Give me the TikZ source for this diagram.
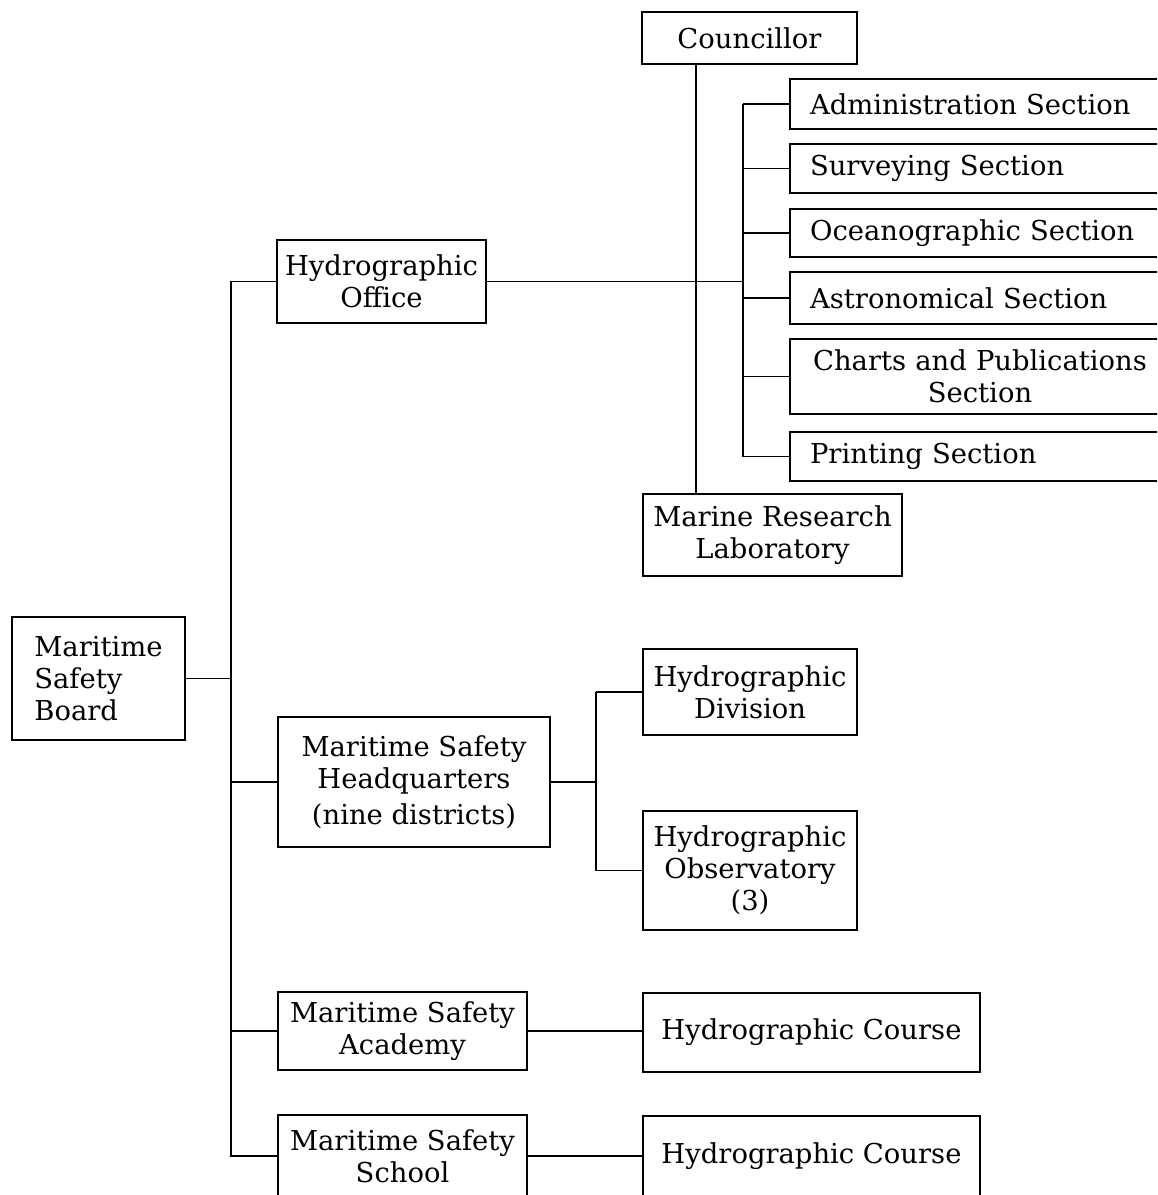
\documentclass[tikz,border=0pt]{standalone}
\usepackage{fontspec}
\setmainfont{DejaVu Serif}
\usepackage{tikz}
\usetikzlibrary{positioning}

\begin{document}
\begin{tikzpicture}[x=0.02cm, y=-0.02cm, line width=1pt,
        orgbox/.style={draw, rectangle, align=center, inner sep=2pt, font=\fontsize{15.6}{18.2}\selectfont},
        secbox/.style={orgbox, minimum width=7.6cm, inner xsep=0.4cm, text width=6.8cm, align=left}]
        \useasboundingbox (0,0) rectangle (1157,1195);
        \clip (0,0) rectangle (1157,1195);

        % top group
        \node[orgbox, minimum width=4.3cm, minimum height=1.04cm] (coun) at (749.5,38) {Councillor};
        \node[secbox, minimum height=1.0cm] (adm) at (980,104) {Administration Section};
        \node[secbox, minimum height=0.98cm] (surv) at (980,168.5) {Surveying Section};
        \node[secbox, minimum height=0.96cm] (ocea) at (980,233) {Oceanographic Section};
        \node[secbox, minimum height=1.04cm] (astr) at (980,298) {Astronomical Section};
        \node[secbox, align=center, minimum height=1.5cm] (chart) at (980,376.5) {Charts and Publications\\Section};
        \node[secbox, minimum height=0.98cm] (prnt) at (980,456.5) {Printing Section};
        \node[orgbox, minimum width=5.18cm, minimum height=1.64cm] (mrl) at (772.5,535) {Marine Research\\Laboratory};
        \node[orgbox, minimum width=4.18cm, minimum height=1.66cm] (hyd) at (381.5,281.5) {Hydrographic\\Office};

        % board and branches
        \node[orgbox, align=left, minimum width=3.46cm, minimum height=2.46cm] (msb) at (98.5,678.5) {Maritime\\Safety\\Board};
        \node[orgbox, minimum width=5.44cm, minimum height=2.6cm] (mshq) at (414,782) {Maritime Safety\\Headquarters\\[2pt](nine districts)};
        \node[orgbox, minimum width=4.28cm, minimum height=1.72cm] (div) at (750,692) {Hydrographic\\Division};
        \node[orgbox, minimum width=4.28cm, minimum height=2.38cm] (obs) at (750,870.5) {Hydrographic\\Observatory\\(3)};
        \node[orgbox, minimum width=4.98cm, minimum height=1.56cm] (acad) at (402.5,1031) {Maritime Safety\\Academy};
        \node[orgbox, minimum width=6.74cm, minimum height=1.58cm] (crs1) at (811.5,1032.5) {Hydrographic Course};
        \node[orgbox, minimum width=4.98cm, minimum height=1.64cm] (schl) at (402.5,1156) {Maritime Safety\\School};
        \node[orgbox, minimum width=6.74cm, minimum height=1.62cm] (crs2) at (811.5,1156.5) {Hydrographic Course};

        \coordinate (cl) at (696,0);
        \coordinate (br) at (743,0);
        \coordinate (tr) at (231,0);
        \coordinate (br2) at (596,0);

        \draw (coun.south -| cl) -- (mrl.north -| cl);
        \draw (hyd.east) -- (hyd.east -| br);
        \draw (adm.west -| br) -- (prnt.west -| br);
        \foreach \s in {adm,surv,ocea,astr,chart,prnt}
            \draw (\s.west -| br) -- (\s.west);

        \draw (msb.east) -- (msb.east -| tr);
        \draw (hyd.west -| tr) -- (schl.west -| tr) -- (schl.west);
        \foreach \s in {hyd,mshq,acad}
            \draw (\s.west -| tr) -- (\s.west);

        \draw (mshq.east) -- (mshq.east -| br2);
        \draw (div.west -| br2) -- (obs.west -| br2);
        \draw (div.west -| br2) -- (div.west);
        \draw (obs.west -| br2) -- (obs.west);

        \draw (acad.east) -- (acad.east -| crs1.west);
        \draw (schl.east) -- (schl.east -| crs2.west);
    \end{tikzpicture}
\end{document}
